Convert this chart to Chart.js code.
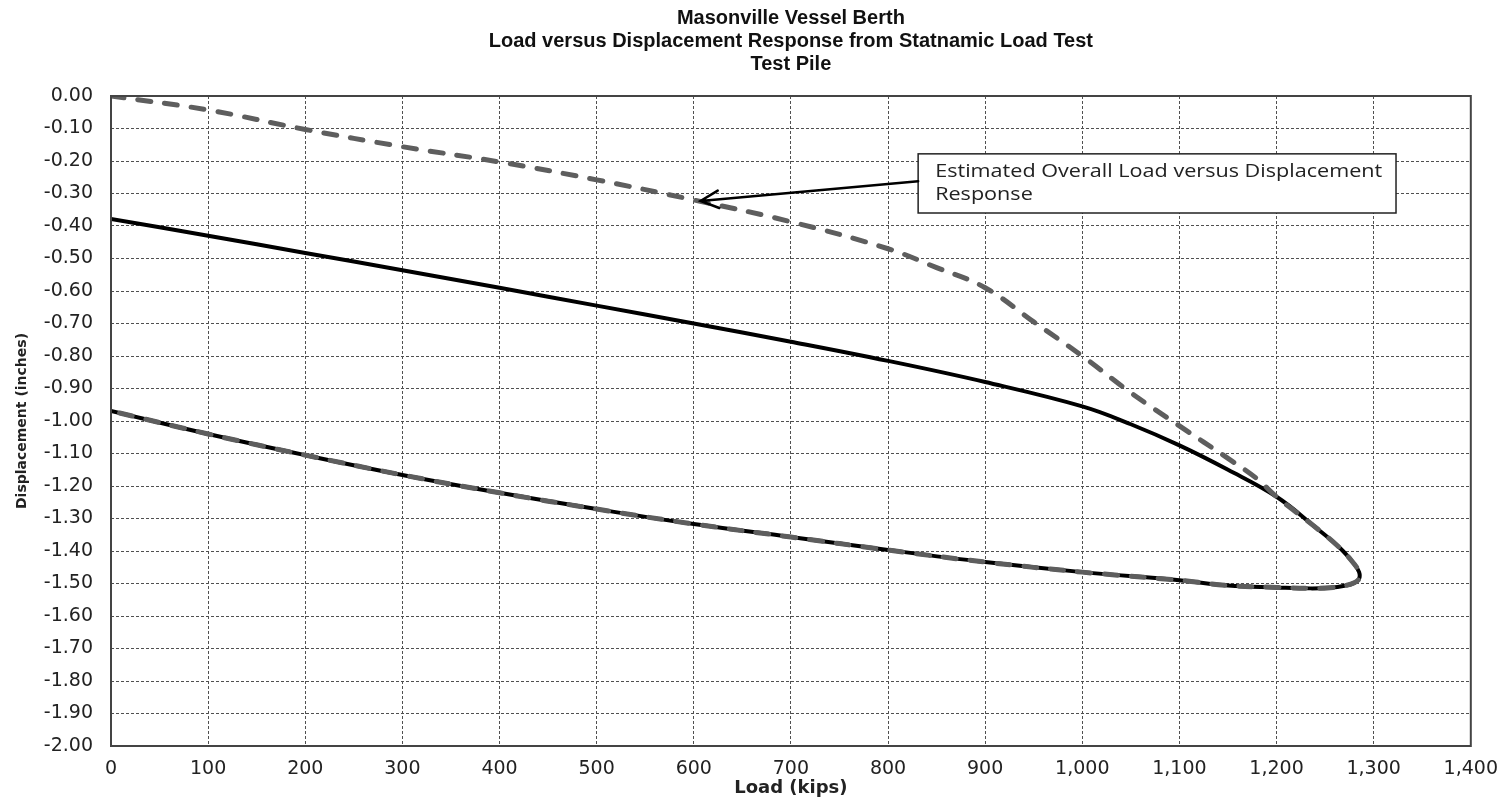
<!DOCTYPE html>
<html>
<head>
<meta charset="utf-8">
<title>Masonville Vessel Berth - Statnamic Load Test</title>
<script src="https://cdn.jsdelivr.net/npm/chart.js@4.4.1/dist/chart.umd.min.js"></script>
<style>
    html, body { margin: 0; padding: 0; background: #fff; }
    #wrap { width: 1510px; height: 801px; }
</style>
</head>
<body>
<div id="wrap"><canvas id="pileChart" width="1510" height="801"></canvas></div>
<script>
var titleLines = ['Masonville Vessel Berth', 'Load versus Displacement Response from Statnamic Load Test', 'Test Pile'];
var calloutLines = ['Estimated Overall Load versus Displacement', 'Response'];

// statnamic record, loading part up to where it joins the estimated curve
var statLoad = [0, 100, 200, 300, 400, 500, 600, 700, 800, 900, 1000, 1050, 1100, 1150];
var statDisp = [-0.378, -0.43, -0.483, -0.536, -0.59, -0.645, -0.70, -0.756, -0.815, -0.88, -0.955, -1.01, -1.075, -1.15];

// estimated overall load vs displacement, down to the join
var estLoad = [0, 100, 200, 300, 400, 500, 600, 700, 800, 850, 900, 950, 1000, 1050, 1100, 1150, 1180];
var estDisp = [0, -0.043, -0.103, -0.156, -0.203, -0.258, -0.32, -0.387, -0.47, -0.528, -0.59, -0.695, -0.80, -0.913, -1.015, -1.115, -1.178];

// common part of both: peak load and the rebound back to zero load
var loopLoad = [1200, 1238, 1265, 1280, 1285, 1285, 1280, 1270, 1255, 1235, 1200, 1150, 1100, 1000, 900, 800, 700, 600, 500, 400, 300, 200, 100, 0];
var loopDisp = [-1.233, -1.322, -1.39, -1.44, -1.465, -1.485, -1.498, -1.507, -1.513, -1.515, -1.512, -1.506, -1.49, -1.465, -1.434, -1.397, -1.357, -1.317, -1.271, -1.221, -1.166, -1.105, -1.04, -0.969];

function toPoints(xs, ys) {
    return xs.map(function (x, i) { return { x: x, y: ys[i] }; });
}

var statPoints = toPoints(statLoad.concat(loopLoad), statDisp.concat(loopDisp));
var estPoints = toPoints(estLoad.concat(loopLoad), estDisp.concat(loopDisp));

// callout box and arrow, in load / displacement units
var callout = { left: 831, right: 1323, top: -0.178, bottom: -0.36, tailDisp: -0.262, tipLoad: 607, tipDisp: -0.323 };

var titlePlugin = {
    id: 'titleLines',
    afterDraw: function (chart) {
        var ctx = chart.ctx;
        var area = chart.chartArea;
        var cx = (area.left + area.right) / 2;
        var baselines = [24, 47, 70];
        ctx.save();
        ctx.fillStyle = '#111';
        ctx.font = 'bold 20px "Liberation Sans"';
        ctx.textAlign = 'center';
        ctx.textBaseline = 'alphabetic';
        titleLines.forEach(function (t, i) {
            ctx.fillText(t, cx, baselines[i]);
        });
        ctx.restore();
    }
};

var framePlugin = {
    id: 'frameAndCallout',
    afterDatasetsDraw: function (chart) {
        var ctx = chart.ctx;
        var area = chart.chartArea;
        var xs = chart.scales.x, ys = chart.scales.y;

        ctx.save();
        ctx.strokeStyle = '#444';
        ctx.lineWidth = 2;
        ctx.strokeRect(area.left, area.top, area.right - area.left, area.bottom - area.top);

        // callout box
        var bx = xs.getPixelForValue(callout.left);
        var bx2 = xs.getPixelForValue(callout.right);
        var by = ys.getPixelForValue(callout.top);
        var by2 = ys.getPixelForValue(callout.bottom);
        ctx.fillStyle = '#fff';
        ctx.fillRect(bx, by, bx2 - bx, by2 - by);
        ctx.strokeStyle = '#222';
        ctx.lineWidth = 1.5;
        ctx.strokeRect(bx, by, bx2 - bx, by2 - by);

        // callout text, drawn a little wide
        var sx = 1.2;
        ctx.save();
        ctx.translate(bx + 17, by);
        ctx.scale(sx, 1);
        ctx.fillStyle = '#222';
        ctx.font = '18px "Open Sans"';
        ctx.textAlign = 'left';
        ctx.textBaseline = 'alphabetic';
        ctx.fillText(calloutLines[0], 0, 23);
        ctx.fillText(calloutLines[1], 0, 46);
        ctx.restore();

        // arrow to the dashed curve
        var tx = bx, ty = ys.getPixelForValue(callout.tailDisp);
        var hx = xs.getPixelForValue(callout.tipLoad), hy = ys.getPixelForValue(callout.tipDisp);
        var ang = Math.atan2(ty - hy, tx - hx);
        var len = 20, spread = 0.45;
        ctx.strokeStyle = '#000';
        ctx.lineWidth = 2.5;
        ctx.lineCap = 'round';
        ctx.beginPath();
        ctx.moveTo(tx, ty);
        ctx.lineTo(hx, hy);
        ctx.moveTo(hx + len * Math.cos(ang + spread), hy + len * Math.sin(ang + spread));
        ctx.lineTo(hx, hy);
        ctx.lineTo(hx + len * Math.cos(ang - spread), hy + len * Math.sin(ang - spread));
        ctx.stroke();
        ctx.restore();
    }
};

var ctx = document.getElementById('pileChart').getContext('2d');
var pileChart = new Chart(ctx, {
    type: 'scatter',
    data: {
        datasets: [{
            label: 'Estimated overall',
            data: estPoints,
            showLine: true,
            borderColor: '#5e5e5e',
            borderWidth: 5,
            borderDash: [13, 14],
            borderCapStyle: 'round',
            pointRadius: 0,
            tension: 0.4,
            order: 0
        }, {
            label: 'Statnamic',
            data: statPoints,
            showLine: true,
            borderColor: '#000',
            borderWidth: 4,
            pointRadius: 0,
            tension: 0.4,
            order: 1
        }]
    },
    options: {
        responsive: false,
        animation: false,
        layout: { padding: { left: 0, right: 37, top: 96, bottom: 0 } },
        plugins: {
            legend: { display: false },
            tooltip: { enabled: false },
            title: { display: false }
        },
        scales: {
            x: {
                type: 'linear',
                min: 0,
                max: 1400,
                afterFit: function (s) { s.height = 55; },
                grid: { color: '#505050', lineWidth: 1, drawTicks: false },
                border: { display: false, dash: [3, 2] },
                ticks: {
                    stepSize: 100,
                    padding: 12,
                    color: '#222',
                    font: { family: 'DejaVu Sans', size: 19 },
                    maxRotation: 0,
                    callback: function (v) { return v.toLocaleString('en-US'); }
                },
                title: {
                    display: true,
                    text: 'Load (kips)',
                    color: '#222',
                    font: { family: 'DejaVu Sans', size: 18, weight: 'bold' },
                    padding: { top: 0, bottom: 2 }
                }
            },
            y: {
                type: 'linear',
                min: -2,
                max: 0,
                afterFit: function (s) { s.width = 111; },
                grid: { color: '#505050', lineWidth: 1, drawTicks: false },
                border: { display: false, dash: [3, 2] },
                ticks: {
                    stepSize: 0.1,
                    padding: 18,
                    color: '#222',
                    font: { family: 'DejaVu Sans', size: 19 },
                    callback: function (v) { return Number(v).toFixed(2); }
                },
                title: {
                    display: true,
                    text: 'Displacement (inches)',
                    color: '#222',
                    font: { family: 'DejaVu Sans', size: 14, weight: 'bold' },
                    padding: { top: 14, bottom: 0 }
                }
            }
        }
    },
    plugins: [titlePlugin, framePlugin]
});
</script>
</body>
</html>
